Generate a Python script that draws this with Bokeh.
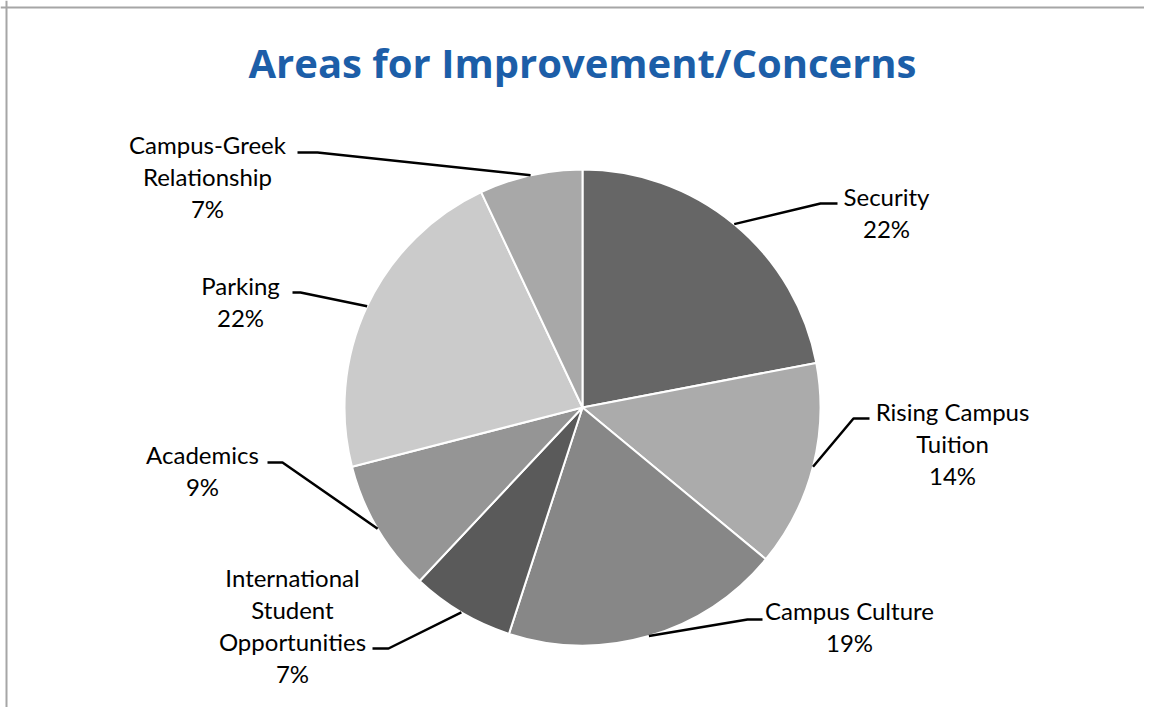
import math
from bokeh.plotting import figure
from bokeh.models import Range1d, ColumnDataSource, Span
from bokeh.core.properties import value
from bokeh.embed import file_html
from bokeh.resources import INLINE

# ---- data ----
title = "Areas for Improvement/Concerns"
categories = ["Security", "Rising Campus\nTuition", "Campus Culture",
              "International\nStudent\nOpportunities", "Academics",
              "Parking", "Campus-Greek\nRelationship"]
percents = [22, 14, 19, 7, 9, 22, 7]

# ---- style ----
colors = ["#666666", "#ababab", "#878787", "#5a5a5a", "#959595", "#cbcbcb", "#a8a8a8"]

W, H = 1144, 707


def X(px):
    return px


def Y(py):
    return H - py


cx, cy, R = X(582), Y(407), 238

# label anchor: (center x, first line y) in page pixels
label_pos = [(886, 196), (952, 411), (849, 610), (292, 577), (202, 454), (240, 285), (207, 144)]
# leader elbows and ends in page pixels
leader_pts = [((820, 203), (837, 203)), ((853, 418), (869, 418)), ((747, 619), (762, 619)),
              ((388, 648), (372, 648)), ((282, 462), (267, 462)), ((300, 292), (292, 292)),
              ((317, 152), (297, 152))]
LINE_GAP = 32

p = figure(width=W, height=H, output_backend="svg", toolbar_location=None,
           x_range=Range1d(0, W), y_range=Range1d(0, H), min_border=0)
p.axis.visible = False
p.grid.visible = False
p.outline_line_color = None
p.background_fill_color = "white"
p.border_fill_color = "white"

total = sum(percents)
starts, ends, mids = [], [], []
cum = 0
for v in percents:
    a0 = math.pi / 2 - 2 * math.pi * (cum + v) / total
    a1 = math.pi / 2 - 2 * math.pi * cum / total
    starts.append(a0)
    ends.append(a1)
    mids.append((a0 + a1) / 2)
    cum += v

src = ColumnDataSource(dict(start=starts, end=ends, color=colors))
p.wedge(x=cx, y=cy, radius=R, start_angle="start", end_angle="end",
        fill_color="color", line_color="white", line_width=2, source=src)

# leader lines
xs, ys = [], []
for m, (el, en) in zip(mids, leader_pts):
    sx = cx + R * math.cos(m)
    sy = cy + R * math.sin(m)
    xs.append([sx, X(el[0]), X(en[0])])
    ys.append([sy, Y(el[1]), Y(en[1])])
p.multi_line(xs=xs, ys=ys, line_color="black", line_width=2.5)

# labels
tx, ty, tt = [], [], []
for name, v, (lx, ly) in zip(categories, percents, label_pos):
    lines = name.split("\n") + [f"{v}%"]
    for i, ln in enumerate(lines):
        tx.append(X(lx))
        ty.append(Y(ly + i * LINE_GAP))
        tt.append(ln)
p.text(x=tx, y=ty, text=tt, text_font=value("Lato"), text_font_size="24px",
       text_align="center", text_baseline="alphabetic", text_color="black")

# title
p.text(x=[X(582)], y=[Y(62)], text=[title], text_font=value("Open Sans"), text_font_size="40px",
       text_font_style="bold", text_align="center", text_baseline="alphabetic",
       text_color="#1c5ea8")

# chart frame (left and top edges)
p.add_layout(Span(location=X(6), dimension="height", line_color="#a6a6a6", line_width=2))
p.add_layout(Span(location=Y(7), dimension="width", line_color="#a6a6a6", line_width=2))

open("out.html", "w").write(file_html(p, INLINE))
